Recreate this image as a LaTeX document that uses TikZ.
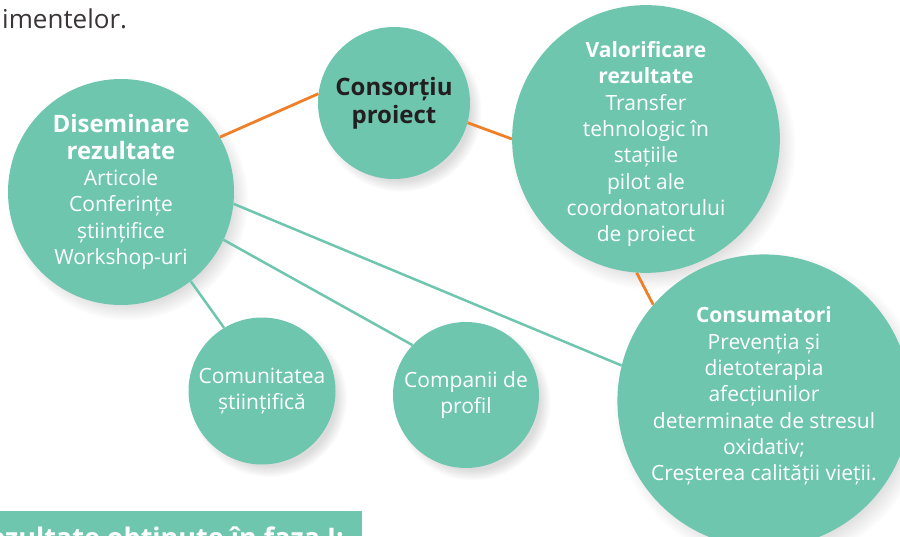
\documentclass[tikz,border=0pt]{standalone}
\usepackage{fontspec}
\setmainfont{Open Sans}
\usepackage{tikz}
\usetikzlibrary{shadows}
\definecolor{bubblegreen}{RGB}{111,198,175}
\definecolor{linkorange}{RGB}{240,128,40}
\definecolor{darktext}{RGB}{35,31,32}
\newcommand{\bighead}[1]{{\bfseries\fontsize{24}{27}\selectfont #1}}
\newcommand{\smallhead}[1]{{\bfseries #1}}

\begin{document}
\begin{tikzpicture}[x=1pt,y=1pt,
 bubble/.style={circle,fill=bubblegreen,inner sep=0pt,align=center,text=white,
  font=\fontsize{21}{26.3}\selectfont,
  circular drop shadow={shadow xshift=6pt,shadow yshift=-7pt,shadow scale=1.07,opacity=0.28}},
 orangelink/.style={draw=linkorange,line width=2.8pt},
 teallink/.style={draw=bubblegreen,line width=2.5pt}]
 \useasboundingbox (0,0) rectangle (900,536);
 \clip (0,0) rectangle (900,536);
 \node[anchor=base west,text=darktext!90,font=\fontsize{26}{30}\selectfont,inner sep=0pt] (toptext) at (2,507) {imentelor.};
 \node[bubble,minimum size=152pt,text=darktext,font=\bfseries\fontsize{24}{28}\selectfont] (cons) at (394,433) {Consorțiu\\proiect};
 \node[bubble,minimum size=226pt] (dis) at (121,344) {\bighead{Diseminare}\\\bighead{rezultate}\\Articole\\Conferințe\\științifice\\Workshop-uri};
 \node[bubble,minimum size=262pt] (val) at (646,397) {\mbox{}\\\smallhead{Valorificare}\\\smallhead{rezultate}\\Transfer\\tehnologic în\\stațiile\\pilot ale\\coordonatorului\\de proiect};
 \node[bubble,minimum size=276pt] (consum) at (764,135) {\smallhead{Consumatori}\\Prevenția și\\dietoterapia\\afecțiunilor\\determinate de stresul\\oxidativ;\\Creșterea calității vieții.\\[-12pt]\mbox{}};
 \node[bubble,minimum size=147pt] (comun) at (262,145) {Comunitatea\\științifică};
 \node[bubble,minimum size=146pt] (comp) at (466,141) {Companii de\\profil};
 \draw[orangelink] (dis.29) -- (cons.173);
 \draw[orangelink] (cons.-15) -- (val.180);
 \draw[orangelink] (val.-94) -- (consum.139);
 \draw[teallink] (dis.-6) -- (consum.166);
 \draw[teallink] (dis.-25) -- (comp.137);
 \draw[teallink] (dis.-52) -- (comun.121);
 \fill[bubblegreen] (0,0) rectangle (362,25);
 \node[anchor=base east,text=white,font=\bfseries\fontsize{27}{30}\selectfont,inner sep=0pt] (banner) at (344,-11) {Rezultate obținute în faza I:};
\end{tikzpicture}
\end{document}
